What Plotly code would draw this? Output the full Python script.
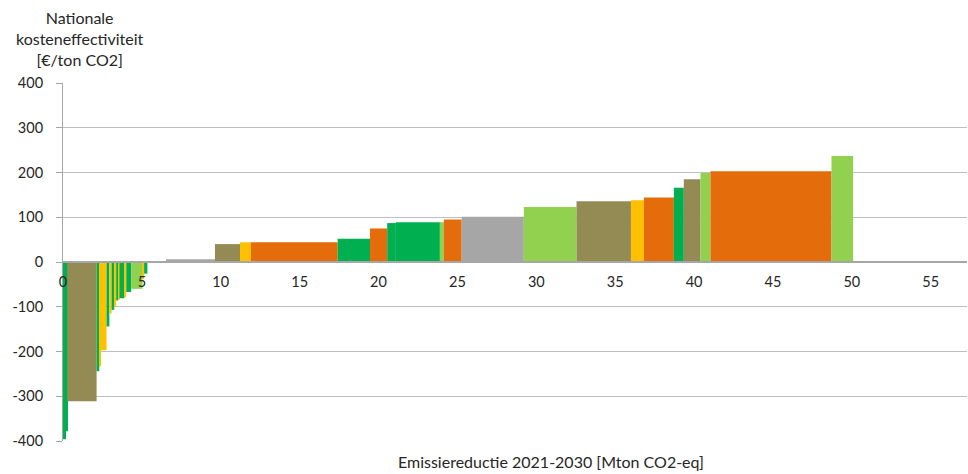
import plotly.graph_objects as go
import numpy as np

# Measures, in order along the curve
widths = [0.19, 0.08, 1.86, 0.17, 0.11, 0.35, 0.18, 0.14, 0.17, 0.12,
          0.13, 0.08, 0.32, 0.11, 0.31, 0.72, 0.10, 0.21, 1.18, 3.10,
          1.59, 0.69, 5.50, 2.05, 1.09, 0.55, 2.79, 0.25, 1.13, 3.94,
          3.34, 3.45, 0.82, 1.90, 0.63, 1.06, 0.63, 7.67, 1.37]
costs = [-396, -378, -311, -244, -233, -197, -144, -115, -107, -100,
         -86, -84, -81, -78, -67, -60, -38, -26, 0, 6,
         40, 44, 44, 52, 75, 87, 89, 89, 95, 101,
         123, 136, 138, 144, 166, 185, 199, 203, 237]
groups = ["green", "green", "olive", "green", "yellow", "yellow", "green", "yellow", "green", "yellow",
          "green", "yellow", "green", "yellow", "green", "lgreen", "yellow", "green", "gray", "gray",
          "olive", "yellow", "orange", "green", "orange", "green", "green", "lgreen", "orange", "gray",
          "lgreen", "olive", "yellow", "orange", "green", "olive", "lgreen", "orange", "lgreen"]

palette = {"green": "#00B050", "lgreen": "#92D050", "olive": "#948A54",
           "yellow": "#FFC000", "orange": "#E46C0A", "gray": "#A6A6A6"}

y_ticks = [-400, -300, -200, -100, 0, 100, 200, 300, 400]
x_ticks = [0, 5, 10, 15, 20, 25, 30, 35, 40, 45, 50, 55]

w = np.array(widths)
ends = np.cumsum(w)
centers = ends - w / 2

fig = go.Figure(go.Bar(
    x=centers, y=costs, width=w,
    marker=dict(color=[palette[g] for g in groups], line=dict(width=0)),
    hoverinfo="skip",
))

FONT = "Lato"
fig.update_layout(
    width=968, height=474,
    margin=dict(l=63, r=1, t=83, b=33),
    plot_bgcolor="white", paper_bgcolor="white",
    showlegend=False,
    font=dict(family=FONT, size=14, color="#262626"),
    xaxis=dict(range=[0, 57.3], tickvals=x_ticks, ticktext=[str(t) for t in x_ticks],
               anchor="free", position=0.5, showline=True, linecolor="#A6A6A6", linewidth=1.5,
               showgrid=False, zeroline=False, ticks="", ticklabelstandoff=7,
               tickfont=dict(family=FONT, size=14.5, color="#262626")),
    yaxis=dict(range=[-400, 400], tickvals=y_ticks, ticktext=[str(t) for t in y_ticks],
               showline=True, linecolor="#A6A6A6", linewidth=1,
               showgrid=True, gridcolor="#BFBFBF", gridwidth=1, zeroline=False,
               ticks="outside", ticklen=6, tickcolor="#A6A6A6", ticklabelstandoff=10,
               tickfont=dict(family=FONT, size=14.5, color="#262626")),
    annotations=[
        dict(text="Nationale<br>kosteneffectiviteit<br>[€/ton CO2]", xref="paper", yref="paper",
             x=(80 - 63) / 904, y=(441 - 6) / 358, xanchor="center", yanchor="top",
             showarrow=False, align="center", font=dict(family=FONT, size=16, color="#262626")),
        dict(text="Emissiereductie 2021-2030 [Mton CO2-eq]", xref="paper", yref="paper",
             x=(551 - 63) / 904, y=(441 - 461) / 358, xanchor="center", yanchor="middle",
             showarrow=False, font=dict(family=FONT, size=16, color="#262626")),
    ],
)

fig.write_html("out.html", config={"displayModeBar": False},
               post_script="document.body.style.margin='0';")
